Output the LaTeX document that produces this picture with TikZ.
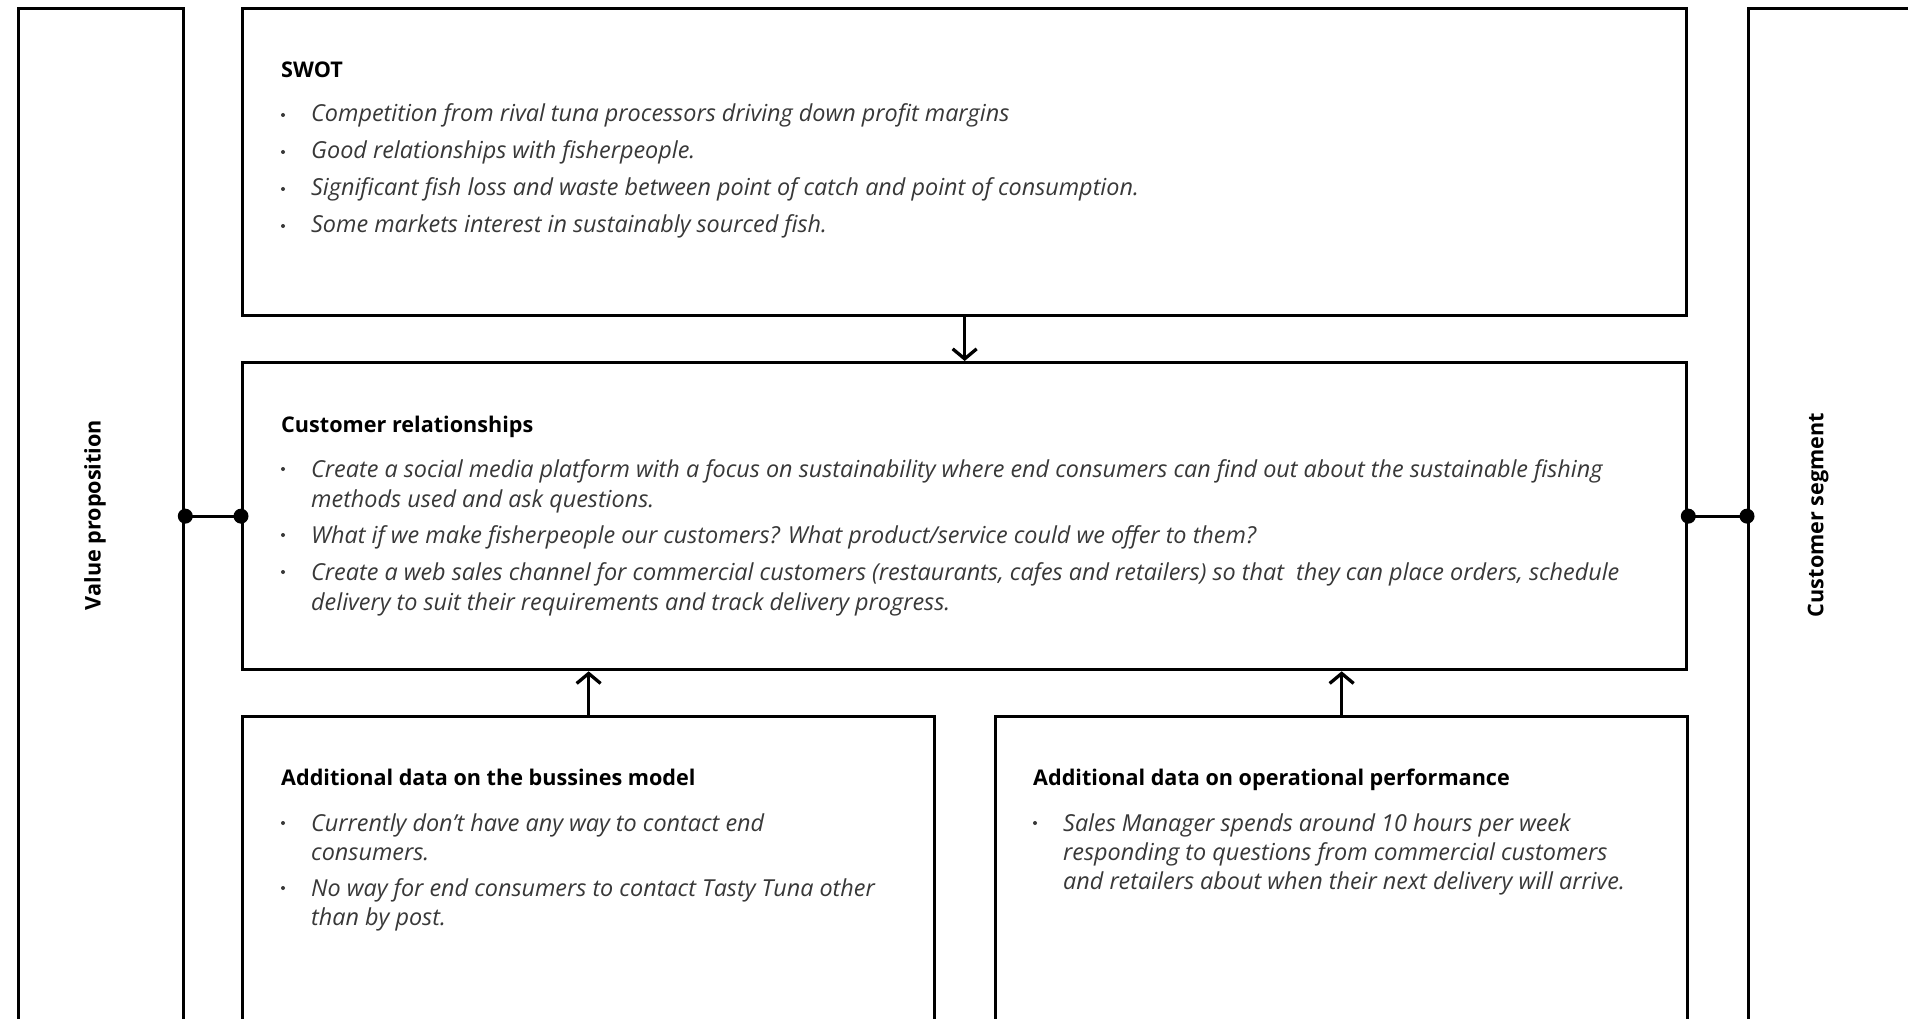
\documentclass[tikz,border=0pt]{standalone}
\usepackage{fontspec}
\setmainfont{Open Sans}
\usetikzlibrary{arrows.meta}
\begin{document}
\begin{tikzpicture}[x=1pt,y=-1pt,
  box/.style={draw=black, line width=3.3pt, rectangle, anchor=north west, inner sep=0pt},
  hd/.style={anchor=base west, inner sep=0pt, text=black, font=\bfseries\fontsize{21.6}{26}\selectfont},
  tx/.style={anchor=base west, inner sep=0pt, text=black!78, font=\itshape\fontsize{23.4}{28}\selectfont},
  side/.style={anchor=center, inner sep=0pt, rotate=90, text=black, font=\bfseries\fontsize{21.6}{26}\selectfont},
  bdot/.style={circle, fill=black!78, inner sep=0pt, minimum size=4pt},
  jdot/.style={circle, fill=black, inner sep=0pt, minimum size=15pt},
  conn/.style={line width=3.3pt},
  arr/.style={line width=3.3pt, -{Straight Barb[length=10pt,width=24pt]}}]
\useasboundingbox (0,0) rectangle (1908,1019);
\clip (0,0) rectangle (1908,1019);
\fill[white] (0,0) rectangle (1908,1019);

% side boxes
\node[box, minimum width=165pt, minimum height=1100pt] (vp) at (17,7) {};
\node[box, minimum width=165pt, minimum height=1100pt] (cs) at (1747,7) {};
\node[side] (vpl) at (95,515) {Value proposition};
\node[side] (csl) at (1818,515) {Customer segment};

% main boxes
\node[box, minimum width=1444pt, minimum height=307pt] (swot) at (241,7) {};
\node[box, minimum width=1444pt, minimum height=307pt] (cr) at (241,361) {};
\node[box, minimum width=692pt, minimum height=400pt] (bm) at (241,715) {};
\node[box, minimum width=692pt, minimum height=400pt] (op) at (994,715) {};

% SWOT text
\node[hd] (swoth) at (281,78) {SWOT};
\node[bdot] (sb1) at (283,115) {}; \node[tx] (s1) at (311,122) {Competition from rival tuna processors driving down profit margins};
\node[bdot] (sb2) at (283,152) {}; \node[tx] (s2) at (311,159) {Good relationships with fisherpeople.};
\node[bdot] (sb3) at (283,189) {}; \node[tx] (s3) at (311,196) {Significant fish loss and waste between point of catch and point of consumption.};
\node[bdot] (sb4) at (283,226) {}; \node[tx] (s4) at (311,233) {Some markets interest in sustainably sourced fish.};

% Customer relationships text
\node[hd] (crh) at (281,432) {Customer relationships};
\node[bdot] (cb1) at (283,469) {}; \node[tx] (c1a) at (311,477) {Create a social media platform with a focus on sustainability where end consumers can find out about the sustainable fishing};
\node[tx] (c1b) at (311,507) {methods used and ask questions.};
\node[bdot] (cb2) at (283,535) {}; \node[tx] (c2) at (311,543) {What if we make fisherpeople our customers? What product/service could we offer to them?};
\node[bdot] (cb3) at (283,572) {}; \node[tx] (c3a) at (311,580) {Create a web sales channel for commercial customers (restaurants, cafes and retailers) so that\ \ they can place orders, schedule};
\node[tx] (c3b) at (311,610) {delivery to suit their requirements and track delivery progress.};

% Business model text
\node[hd] (bmh) at (281,785) {Additional data on the bussines model};
\node[bdot] (bb1) at (283,823) {}; \node[tx] (b1a) at (311,831) {Currently don’t have any way to contact end};
\node[tx] (b1b) at (311,860) {consumers.};
\node[bdot] (bb2) at (283,888) {}; \node[tx] (b2a) at (311,896) {No way for end consumers to contact Tasty Tuna other};
\node[tx] (b2b) at (311,925) {than by post.};

% Operational performance text
\node[hd] (oph) at (1033,785) {Additional data on operational performance};
\node[bdot] (ob1) at (1035,823) {}; \node[tx] (o1a) at (1063,831) {Sales Manager spends around 10 hours per week};
\node[tx] (o1b) at (1063,860) {responding to questions from commercial customers};
\node[tx] (o1c) at (1063,889) {and retailers about when their next delivery will arrive.};

% connectors
\coordinate (vpj) at (vp.east |- cr.west);
\coordinate (csj) at (cs.west |- cr.east);
\draw[conn] (vpj) -- (cr.west);
\draw[conn] (cr.east) -- (csj);
\node[jdot] (d1) at (vpj) {};
\node[jdot] (d2) at (cr.west) {};
\node[jdot] (d3) at (cr.east) {};
\node[jdot] (d4) at (csj) {};
\draw[arr] (swot.south) -- (cr.north);
\draw[arr] (bm.north) -- (bm.north |- cr.south);
\draw[arr] (op.north) -- (op.north |- cr.south);
\end{tikzpicture}
\end{document}
